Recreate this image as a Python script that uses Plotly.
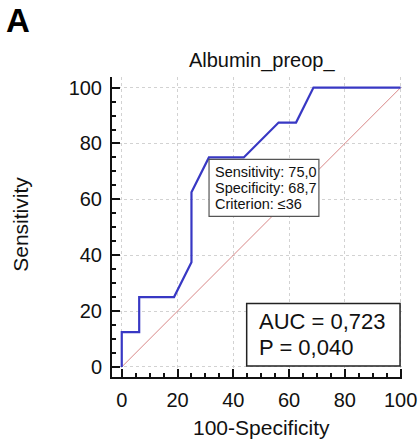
import plotly.graph_objects as go

# ROC curve points (100-Specificity, Sensitivity)
roc_x = [0, 0, 6.25, 6.25, 18.75, 25, 25, 31.25, 43.75, 56.25, 62.5, 68.75, 100]
roc_y = [0, 12.5, 12.5, 25, 25, 37.5, 62.5, 75, 75, 87.5, 87.5, 100, 100]
ref_x = [0, 100]
ref_y = [0, 100]

opt_lines = ["Sensitivity: 75,0", "Specificity: 68,7", "Criterion: \u226436"]
stats_lines = ["AUC = 0,723", "P = 0,040"]
tick_vals = [0, 20, 40, 60, 80, 100]

FONT = "Liberation Sans, Arial, Helvetica, sans-serif"
INK = "#111"

fig = go.Figure()
fig.add_trace(go.Scatter(x=ref_x, y=ref_y, mode="lines",
                         line=dict(color="#d98888", width=1), hoverinfo="skip"))
fig.add_trace(go.Scatter(x=roc_x, y=roc_y, mode="lines",
                         line=dict(color="#3838c4", width=2.2), cliponaxis=False))

axis_common = dict(
    showline=True, linecolor=INK, linewidth=2,
    ticks="inside", ticklen=8, tickwidth=2, tickcolor=INK,
    minor=dict(ticks="inside", ticklen=4, tickwidth=1.5, tickcolor=INK, dtick=5,
               showgrid=False),
    tickvals=tick_vals,
    showgrid=True, gridcolor="#d2d2d2", gridwidth=1, griddash="dot",
    zeroline=False, mirror=False, automargin=False,
    tickfont=dict(size=20, color=INK),
)

fig.update_xaxes(range=[-3.5, 100.5], ticklabelstandoff=4, **axis_common)
fig.update_yaxes(range=[-3.6, 103.8], ticklabelstandoff=4, **axis_common)

# optimal criterion box
fig.add_shape(type="rect", xref="x", yref="y", x0=31.3, x1=70.7, y0=53.9, y1=74.3,
              line=dict(color="#555", width=1.2), fillcolor="white", layer="above")
for i, line in enumerate(opt_lines):
    fig.add_annotation(x=32.6, y=69.8 - 5.8 * i, xref="x", yref="y", text=line,
                       showarrow=False, xanchor="left", yanchor="middle",
                       font=dict(size=14.5, color=INK, family=FONT))

# AUC / P box
fig.add_shape(type="rect", xref="x", yref="y", x0=44.8, x1=99.8, y0=0.3, y1=22.7,
              line=dict(color="#222", width=1.5), fillcolor="white", layer="above")
for i, line in enumerate(stats_lines):
    fig.add_annotation(x=48.4, y=16.1 - 9.1 * i, xref="x", yref="y", text=line,
                       showarrow=False, xanchor="left", yanchor="middle",
                       font=dict(size=22, color=INK, family=FONT))

# panel letter and axis titles
fig.add_annotation(x=-0.372, y=1.258, xref="paper", yref="paper", xanchor="left",
                   yanchor="top", text="<b>A</b>", showarrow=False,
                   font=dict(size=33, color="#000", family=FONT))
fig.add_annotation(x=-0.318, y=0.51, xref="paper", yref="paper", xanchor="center",
                   yanchor="middle", text="Sensitivity", textangle=-90, showarrow=False,
                   font=dict(size=21, color=INK, family=FONT))
fig.add_annotation(x=0.516, y=-0.167, xref="paper", yref="paper", xanchor="center",
                   yanchor="middle", text="100-Specificity", showarrow=False,
                   font=dict(size=21, color=INK, family=FONT))

fig.update_layout(
    width=419, height=441,
    margin=dict(l=112, r=17, t=77, b=64),
    paper_bgcolor="white", plot_bgcolor="white",
    font=dict(family=FONT, color=INK),
    showlegend=False,
    title=dict(text="Albumin_preop_", x=0.6246, xanchor="center", y=0.864,
               yanchor="middle", font=dict(size=20, color=INK)),
)

# the page body has a default 8px margin; drop it so the figure fills the window
fig.write_html("out.html", config={"displayModeBar": False},
               post_script="document.body.style.margin='0';")
